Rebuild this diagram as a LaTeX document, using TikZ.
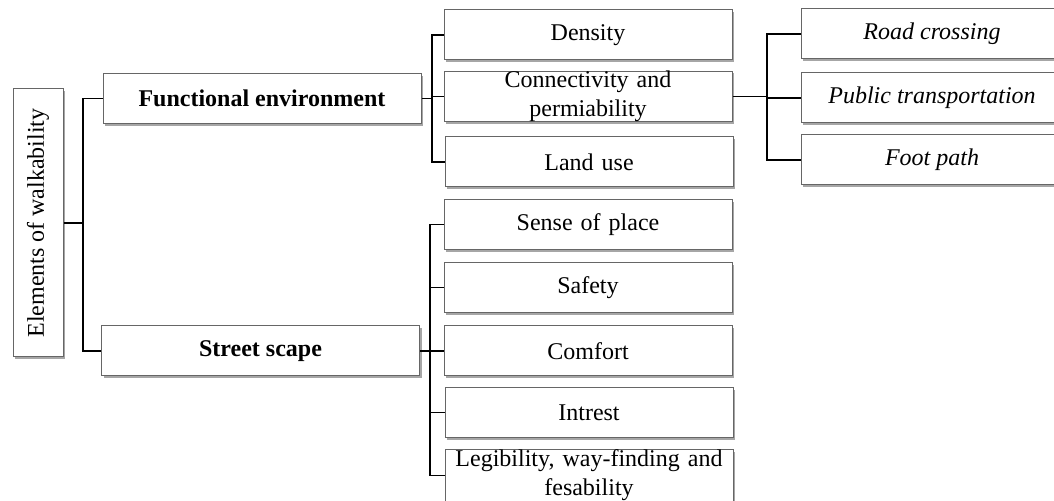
\documentclass[tikz,border=0pt]{standalone}
\usepackage{fontspec}
\setmainfont{Liberation Serif}
\usetikzlibrary{shadows}

\begin{document}
\begin{tikzpicture}[
		x=0.5pt, y=-0.5pt,
		every node/.style={font=\fontsize{12}{14.5}\selectfont},
		box/.style={draw=black!60, fill=white, line width=0.5pt, inner xsep=1pt, inner ysep=0pt, align=center,
			drop shadow={shadow xshift=1pt, shadow yshift=-1.2pt, opacity=0.35, fill=black}},
		main/.style={box, minimum width=159pt, minimum height=25pt, font=\fontsize{12}{14.5}\selectfont\bfseries},
		item/.style={box, minimum width=144pt, minimum height=25pt, text width=140pt},
		sub/.style={box, minimum width=131pt, minimum height=25pt, font=\fontsize{12}{14.5}\selectfont\itshape},
		link/.style={line width=0.9pt},
	]

	\useasboundingbox (0,0) rectangle (1054,501);
	\clip (0,0) rectangle (1054,501);

	% root and the two main groups
	\node[box, minimum width=25pt, minimum height=134pt] (root) at (38,223) {\rotatebox{90}{Elements of walkability}};
	\node[main] (func) at (262,98.5) {Functional environment};
	\node[main] (street) at (260.5,351) {Street scape};

	% functional environment
	\node[item] (density) at (588,35) {Density};
	\node[item] (conn) at (588,96.5) {Connectivity and\\permiability};
	\node[item] (landuse) at (589,162) {Land use};

	% street scape
	\node[item] (sense) at (588,224.5) {Sense of place};
	\node[item] (safety) at (588,287.5) {Safety};
	\node[item] (comfort) at (588,351) {Comfort};
	\node[item] (intrest) at (589,412.5) {Intrest};
	\node[item] (legib) at (589,475.5) {Legibility, way-finding and\\fesability};

	% connectivity details
	\node[sub] (road) at (932,34) {Road crossing};
	\node[sub] (public) at (932,98) {Public transportation};
	\node[sub] (foot) at (932,160) {Foot path};

	% bus lines
	\coordinate (b1) at (83,0);
	\coordinate (b2) at (432,0);
	\coordinate (b3) at (430,0);
	\coordinate (b4) at (767,0);

	\draw[link] (root.east) -- (root.east -| b1);
	\draw[link] (func.west) -- (func.west -| b1) -- (street.west -| b1) -- (street.west);

	\draw[link] (func.east) -- (func.east -| b2);
	\draw[link] (density.west) -- (density.west -| b2) -- (landuse.west -| b2) -- (landuse.west);
	\draw[link] (conn.west) -- (conn.west -| b2);

	\draw[link] (street.east) -- (street.east -| b3);
	\draw[link] (sense.west) -- (sense.west -| b3) -- (legib.west -| b3) -- (legib.west);
	\foreach \n in {safety, comfort, intrest}
		\draw[link] (\n.west) -- (\n.west -| b3);

	\draw[link] (conn.east) -- (conn.east -| b4);
	\draw[link] (road.west) -- (road.west -| b4) -- (foot.west -| b4) -- (foot.west);
	\draw[link] (public.west) -- (public.west -| b4);

\end{tikzpicture}
\end{document}
